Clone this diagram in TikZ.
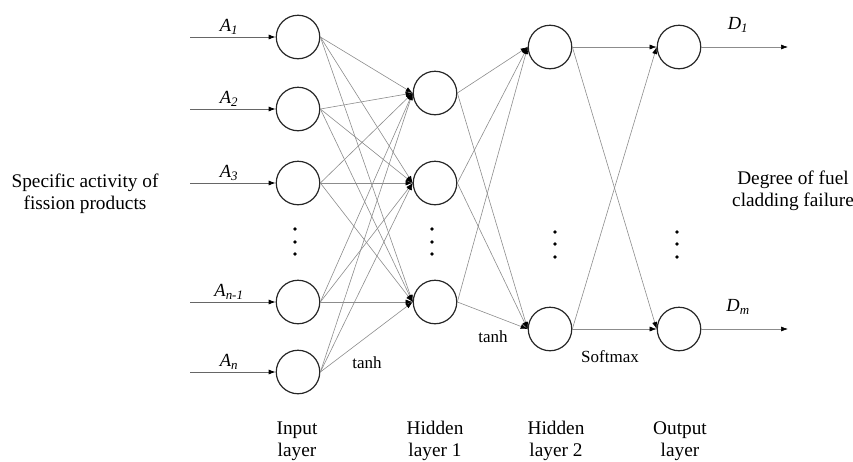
\documentclass[tikz,border=0pt]{standalone}
\usepackage{fontspec}
\setmainfont{Liberation Serif}
\usetikzlibrary{arrows.meta}
\begin{document}
\begin{tikzpicture}[x=1pt,y=-1pt,
  neuron/.style={circle,draw=black!85,line width=1.2pt,minimum size=43.5pt,inner sep=0pt},
  conn/.style={draw=black!45,line width=0.6pt,-{Latex[length=7pt,width=5pt,color=black]}},
  inarrow/.style={draw=black!60,line width=0.8pt,-{Latex[length=7pt,width=5pt,color=black]}},
  big/.style={font=\fontsize{19.3}{22}\selectfont,align=center,inner sep=0pt},
  fn/.style={font=\fontsize{17}{19}\selectfont,inner sep=0pt},
  sym/.style={font=\fontsize{18.5}{20}\selectfont\itshape,inner sep=0pt},
  vdot/.style={fill=black,circle,inner sep=0pt,minimum size=3.6pt}
]
\useasboundingbox (0,0) rectangle (853,461);
% input layer
\node[neuron] (i1) at (298,37) {};
\node[neuron] (i2) at (298,109) {};
\node[neuron] (i3) at (298,183) {};
\node[neuron] (i4) at (298,302) {};
\node[neuron] (i5) at (298,372) {};
% hidden layer 1
\node[neuron] (h1) at (435,93) {};
\node[neuron] (h2) at (435,183) {};
\node[neuron] (h3) at (435,302) {};
% hidden layer 2
\node[neuron] (g1) at (550,47) {};
\node[neuron] (g2) at (550,329) {};
% output layer
\node[neuron] (o1) at (679,47) {};
\node[neuron] (o2) at (679,329) {};
% vertical dots
\foreach \x/\n in {295/a,432/b} {
  \node[vdot] (\n1) at (\x,229) {};
  \node[vdot] (\n2) at (\x,242) {};
  \node[vdot] (\n3) at (\x,254) {};
}
\foreach \x/\n in {555/c,677/d} {
  \node[vdot] (\n1) at (\x,232) {};
  \node[vdot] (\n2) at (\x,244) {};
  \node[vdot] (\n3) at (\x,257) {};
}
% input arrows
\foreach \k/\y in {1/37,2/109,3/183,4/302,5/372} {
  \coordinate (s\k) at (190,\y);
  \draw[inarrow] (s\k) -- (i\k.west);
}
\node[sym] (la1) at (229,27) {A\textsubscript{1}};
\node[sym] (la2) at (229,99) {A\textsubscript{2}};
\node[sym] (la3) at (229,173) {A\textsubscript{3}};
\node[sym] (la4) at (229,292) {A\textsubscript{n-1}};
\node[sym] (la5) at (229,362) {A\textsubscript{n}};
% connections
\foreach \i in {1,...,5} \foreach \j in {1,2,3} \draw[conn] (i\i.east) -- (h\j.west);
\foreach \i in {1,2,3} \foreach \j in {1,2} \draw[conn] (h\i.east) -- (g\j.west);
\foreach \i in {1,2} \foreach \j in {1,2} \draw[conn] (g\i.east) -- (o\j.west);
% outputs
\coordinate (e1) at (788,47);
\coordinate (e2) at (788,329);
\draw[conn] (o1.east) -- (e1);
\draw[conn] (o2.east) -- (e2);
\node[sym] (ld1) at (738,25) {D\textsubscript{1}};
\node[sym] (ld2) at (738,307) {D\textsubscript{m}};
% function labels
\node[fn] (t1) at (367,363) {tanh};
\node[fn] (t2) at (493,337) {tanh};
\node[fn] (t3) at (610,357) {Softmax};
% side texts
\node[big] (left) at (85,194) {Specific activity of\\fission products};
\node[big] (right) at (793,191) {Degree of fuel\\cladding failure};
% layer labels
\node[big] (L1) at (297,441) {Input\\layer};
\node[big] (L2) at (435,441) {Hidden\\layer 1};
\node[big] (L3) at (556,441) {Hidden\\layer 2};
\node[big] (L4) at (680,441) {Output\\layer};
\end{tikzpicture}
\end{document}
